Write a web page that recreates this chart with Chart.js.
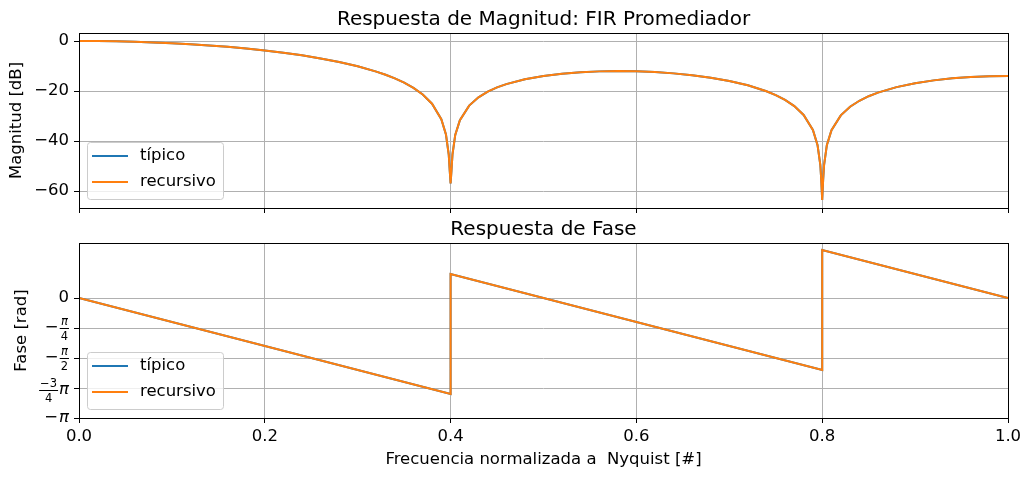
<!DOCTYPE html>
<html>
<head>
<meta charset="utf-8">
<script src="https://cdn.jsdelivr.net/npm/chart.js@4.4.0/dist/chart.umd.min.js"></script>
<style>
  body { margin: 0; background: #fff; }
  #wrap { position: relative; width: 1031px; height: 479px; }
  canvas { position: absolute; left: 0; }
</style>
</head>
<body>
<div id="wrap">
  <canvas id="magChart" width="1031" height="215" style="top:0"></canvas>
  <canvas id="faseChart" width="1031" height="264" style="top:215px"></canvas>
</div>
<script>
// frequency grid (normalized to Nyquist) for the magnitude curve
const frecMag = [0, 0.02, 0.04, 0.06, 0.08, 0.10, 0.12, 0.14, 0.16, 0.18, 0.20, 0.22, 0.24, 0.26, 0.28, 0.30,
  0.32, 0.33, 0.34, 0.35, 0.36, 0.37, 0.38, 0.39, 0.395, 0.398, 0.399, 0.4, 0.401, 0.402, 0.405, 0.41, 0.42,
  0.43, 0.44, 0.45, 0.46, 0.48, 0.50, 0.52, 0.54, 0.56, 0.58, 0.60, 0.62, 0.64, 0.66, 0.68, 0.70, 0.72, 0.74,
  0.75, 0.76, 0.77, 0.78, 0.79, 0.795, 0.798, 0.799, 0.8, 0.801, 0.802, 0.805, 0.81, 0.82, 0.83, 0.84, 0.85,
  0.86, 0.88, 0.90, 0.92, 0.94, 0.96, 0.98, 1.0];
// magnitude in dB
const magTipico = [0, -0.03, -0.14, -0.31, -0.56, -0.88, -1.28, -1.76, -2.33, -3.00, -3.78, -4.68, -5.74, -6.96, -8.40, -10.13,
  -12.25, -13.52, -14.97, -16.68, -18.76, -21.41, -25.09, -31.28, -37.39, -45.40, -51.44, -57.0, -51.48, -45.48, -37.58, -31.66, -25.84,
  -22.54, -20.27, -18.57, -17.25, -15.30, -13.98, -13.07, -12.48, -12.15, -12.04, -12.14, -12.44, -12.95, -13.68, -14.67, -15.99, -17.73, -20.09,
  -21.63, -23.55, -26.04, -29.56, -35.61, -41.64, -49.61, -55.64, -63.6, -55.65, -49.63, -41.69, -35.69, -29.74, -26.30, -23.90, -22.08,
  -20.63, -18.44, -16.88, -15.75, -14.94, -14.40, -14.08, -13.98];
const magRecursivo = [...magTipico];

// phase in rad (jumps at the zeros)
const frecFase = [0, 0.4, 0.4, 0.8, 0.8, 1.0];
const faseTipico = [0, -2.513, 0.628, -1.885, 1.257, 0];
const faseRecursivo = [...faseTipico];

const frecTicks = [0, 0.2, 0.4, 0.6, 0.8, 1.0];
const magTicks = [-60, -40, -20, 0];
const faseTicks = [-Math.PI, -3 * Math.PI / 4, -Math.PI / 2, -Math.PI / 4, 0];
const faseTickLabels = ['−π', '(−3/4)π', '−π/2', '−π/4', '0'];

const FONT = 'DejaVu Sans';
Chart.defaults.font.family = FONT;
Chart.defaults.font.size = 16.5;
Chart.defaults.color = '#000';

const toXY = (xs, ys) => xs.map((x, i) => ({ x: x, y: ys[i] }));

// black frame round the plot area, like the axes spines
const frameBorder = {
  id: 'frameBorder',
  afterDraw(chart) {
    const { ctx, chartArea: a } = chart;
    ctx.save();
    ctx.strokeStyle = '#000';
    ctx.lineWidth = 1;
    ctx.strokeRect(a.left + 0.5, a.top + 0.5, a.right - a.left, a.bottom - a.top);
    ctx.restore();
  }
};

// legend in the lower left corner of the plot
const legendBox = {
  id: 'legendBox',
  afterDraw(chart) {
    const { ctx, chartArea: a } = chart;
    const w = 136, h = 57;
    const x = a.left + 8, y = a.bottom - 9 - h;
    ctx.save();
    ctx.beginPath();
    ctx.roundRect(x + 0.5, y + 0.5, w, h, 3);
    ctx.fillStyle = 'rgba(255,255,255,0.8)';
    ctx.fill();
    ctx.strokeStyle = '#cccccc';
    ctx.lineWidth = 1;
    ctx.stroke();
    chart.data.datasets.forEach((ds, i) => {
      const cy = y + 14 + i * 26;
      ctx.strokeStyle = ds.borderColor;
      ctx.lineWidth = 2;
      ctx.beginPath();
      ctx.moveTo(x + 5, cy);
      ctx.lineTo(x + 41, cy);
      ctx.stroke();
      ctx.fillStyle = '#000';
      ctx.font = '16.5px "' + FONT + '"';
      ctx.textAlign = 'left';
      ctx.textBaseline = 'middle';
      ctx.fillText(ds.label, x + 53, cy);
    });
    ctx.restore();
  }
};

// fraction labels for the phase axis
function drawFrac(ctx, num, den, xr, y) {
  const f = t => (t.includes('π') ? 'italic ' : '') + '11.5px "' + FONT + '"';
  ctx.font = f(num);
  const wn = ctx.measureText(num).width;
  ctx.font = f(den);
  const wd = ctx.measureText(den).width;
  const w = Math.max(wn, wd) + 2;
  const cx = xr - w / 2;
  ctx.textAlign = 'center';
  ctx.font = f(num);
  ctx.fillText(num, cx, y - 6);
  ctx.font = f(den);
  ctx.fillText(den, cx, y + 9);
  ctx.fillRect(xr - w, Math.round(y), w, 1);
  return xr - w;
}

function drawMathLabel(ctx, s, xr, y) {
  const big = '16.5px "' + FONT + '"';
  const bigIt = 'italic 16.5px "' + FONT + '"';
  ctx.textBaseline = 'middle';
  let m;
  if ((m = s.match(/^\((.+)\/(.+)\)(.*)$/))) {
    let x = xr;
    if (m[3]) {
      ctx.font = bigIt;
      ctx.textAlign = 'right';
      ctx.fillText(m[3], x, y + 2);
      x -= ctx.measureText(m[3]).width + 1;
    }
    drawFrac(ctx, m[1], m[2], x, y + 2);
  } else if ((m = s.match(/^(−?)(.+)\/(.+)$/))) {
    const left = drawFrac(ctx, m[2], m[3], xr, y);
    if (m[1]) {
      ctx.font = big;
      ctx.textAlign = 'right';
      ctx.fillText(m[1], left - 1, y);
    }
  } else if (s.includes('π')) {
    ctx.font = bigIt;
    ctx.textAlign = 'right';
    ctx.fillText('π', xr, y);
    const w = ctx.measureText('π').width;
    ctx.font = big;
    ctx.fillText(s.replace('π', ''), xr - w - 1, y);
  } else {
    ctx.font = big;
    ctx.textAlign = 'right';
    ctx.fillText(s, xr, y);
  }
}

const faseLabels = {
  id: 'faseLabels',
  afterDraw(chart) {
    const sc = chart.scales.y;
    const ctx = chart.ctx;
    ctx.save();
    ctx.fillStyle = '#000';
    faseTicks.forEach((v, i) => drawMathLabel(ctx, faseTickLabels[i], sc.right - 10, sc.getPixelForValue(v)));
    ctx.restore();
  }
};

function makeDatasets(xs, tip, rec) {
  return [
    { label: 'típico', data: toXY(xs, tip), borderColor: '#1f77b4', borderWidth: 2, pointRadius: 0, tension: 0, order: 1 },
    { label: 'recursivo', data: toXY(xs, rec), borderColor: '#ff7f0e', borderWidth: 2, pointRadius: 0, tension: 0, order: 0 }
  ];
}

const gridOpts = { color: '#b0b0b0', lineWidth: 1, tickColor: '#000', tickLength: 5, tickWidth: 1 };

function xScale(showLabels, axisHeight) {
  return {
    type: 'linear', min: 0, max: 1,
    grid: gridOpts,
    border: { display: false },
    afterBuildTicks: s => { s.ticks = frecTicks.map(v => ({ value: v })); },
    afterFit: s => { s.height = axisHeight; },
    ticks: { display: showLabels, padding: 4, maxRotation: 0, callback: v => Number(v).toFixed(1) },
    title: {
      display: showLabels,
      text: 'Frecuencia normalizada a  Nyquist [#]',
      padding: { top: 0, bottom: 9.5 },
      font: { size: 16.5 }
    }
  };
}

// fixed y axis width, and no extra label padding above/below the plot
const fitY = s => { s.width = 79; s.paddingTop = 0; s.paddingBottom = 0; };

// magnitude chart
new Chart(document.getElementById('magChart'), {
  type: 'line',
  data: { datasets: makeDatasets(frecMag, magTipico, magRecursivo) },
  options: {
    responsive: false,
    animation: false,
    events: [],
    layout: { padding: { left: 0, right: 23, top: 0, bottom: 0 } },
    plugins: {
      legend: { display: false },
      tooltip: { enabled: false },
      title: {
        display: true, fullSize: false,
        text: 'Respuesta de Magnitud: FIR Promediador',
        font: { size: 20, weight: 'normal', lineHeight: 1.2 },
        padding: { top: 7.5, bottom: 1.5 }
      }
    },
    scales: {
      x: xScale(false, 7),
      y: {
        min: -66.8, max: 3.2,
        grid: gridOpts,
        border: { display: false },
        afterBuildTicks: s => { s.ticks = magTicks.map(v => ({ value: v })); },
        afterFit: fitY,
        ticks: { padding: 5, callback: v => (v < 0 ? '−' + Math.abs(v) : String(v)) },
        title: { display: true, text: 'Magnitud [dB]', padding: { top: 7, bottom: 0 }, font: { size: 16.5 } }
      }
    }
  },
  plugins: [frameBorder, legendBox]
});

// phase chart
new Chart(document.getElementById('faseChart'), {
  type: 'line',
  data: { datasets: makeDatasets(frecFase, faseTipico, faseRecursivo) },
  options: {
    responsive: false,
    animation: false,
    events: [],
    layout: { padding: { left: 0, right: 23, top: 0, bottom: 0 } },
    plugins: {
      legend: { display: false },
      tooltip: { enabled: false },
      title: {
        display: true, fullSize: false,
        text: 'Respuesta de Fase',
        font: { size: 20, weight: 'normal', lineHeight: 1.2 },
        padding: { top: 2.5, bottom: 1.5 }
      }
    },
    scales: {
      x: xScale(true, 61),
      y: {
        min: -Math.PI, max: 1.44,
        grid: gridOpts,
        border: { display: false },
        afterBuildTicks: s => { s.ticks = faseTicks.map(v => ({ value: v })); },
        afterFit: fitY,
        ticks: { display: false },
        title: { display: true, text: 'Fase [rad]', padding: { top: 12, bottom: 0 }, font: { size: 16.5 } }
      }
    }
  },
  plugins: [frameBorder, legendBox, faseLabels]
});
</script>
</body>
</html>
